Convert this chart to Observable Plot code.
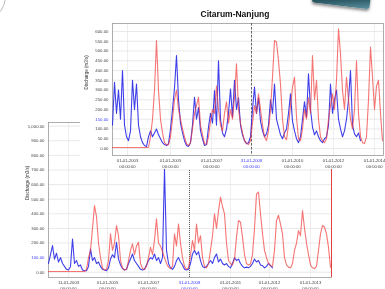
<!DOCTYPE html>
<html><head><meta charset="utf-8">
<script src="https://cdn.jsdelivr.net/npm/d3@7"></script>
<script src="https://cdn.jsdelivr.net/npm/@observablehq/plot@0.6"></script>
<style>
html,body{margin:0;padding:0;background:#fff;}
#stage{position:relative;width:385px;height:289px;overflow:hidden;background:#fff;font-family:"Liberation Sans",Arial,sans-serif;}
#bottom{position:absolute;left:0;top:110px;width:340px;height:179px;background:#fff;}
#top{position:absolute;left:80px;top:0;width:305px;height:169px;background:#fff;}
#title{position:absolute;left:0;width:310px;top:9px;text-align:center;font-weight:bold;font-size:8.5px;color:#111;z-index:2;filter:blur(0.25px);}
#deco{position:absolute;left:313px;top:-20px;width:58px;height:26px;transform:rotate(7deg);border-radius:3px;
  background:linear-gradient(170deg,#1d4a55 0%,#1a4650 60%,#5e93a2 100%);box-shadow:0 2px 3px rgba(0,0,0,.45);z-index:3;}
#arc{position:absolute;left:-46px;top:-30px;width:50px;height:50px;border-radius:50%;border:1px solid #bbb;}
svg{display:block;filter:blur(0.3px);}
</style></head>
<body><div id="stage"><div id="arc"></div><div id="bottom"></div><div id="top"><div id="title">Citarum-Nanjung</div></div><div id="deco"></div></div>
<script>
// ---- Top chart (Citarum-Nanjung) ----
const topTickPos = [7.5, 29, 49.5, 69.5, 90, 110.5, 131];
const topTickLabels = ["01-01-2003\n00:00:00","01-01-2005\n00:00:00","01-01-2007\n00:00:00","31-01-2008\n00:00:00","01-01-2010\n00:00:00","01-01-2012\n00:00:00","01-01-2014\n00:00:00"];
const topYTicks = [0,50,100,150,200,250,300,350,400,450,500,550,600];
const topBlue = [120,340,180,300,150,400,120,60,40,90,350,200,330,120,60,30,15,10,60,90,
 60,80,100,70,50,30,20,15,25,100,200,310,477,250,130,80,40,15,10,30,
 120,263,150,210,90,50,15,20,110,180,130,297,120,450,150,80,60,100,180,305,
 160,350,200,260,120,70,40,25,30,60,200,315,180,260,140,90,60,75,120,250,
 180,330,150,110,70,50,80,100,180,280,140,90,50,30,60,150,240,160,383,200,
 110,70,90,60,40,30,50,60,120,330,180,250,300,150,100,60,90,150,250,400,
 120,75,60,80,40];
const topRed = [5,5,5,5,5,5,5,5,5,5,5,5,5,5,5,5,5,5,5,60,
 150,300,554,300,150,80,30,20,20,60,150,250,300,200,150,100,60,25,15,30,
 100,180,220,263,120,70,25,20,60,140,200,180,320,200,120,90,180,240,130,200,
 150,260,434,200,130,80,40,25,20,40,130,220,180,280,200,120,60,40,90,200,
 365,554,545,450,330,150,60,45,120,220,315,365,160,50,40,100,200,150,260,180,
 477,250,350,150,60,40,30,50,150,220,280,200,350,614,485,300,200,365,250,150,
 100,200,450,180,60,30,25,60,250,520,365,200,320,350,180,40];

// ---- Bottom chart ----
const botTickPos = [10, 29.5, 50, 70.5, 91, 110.5, 131];
const botTickLabels = ["11-01-2003\n00:00:00","01-01-2005\n00:00:00","01-01-2007\n00:00:00","31-01-2008\n00:00:00","01-01-2011\n00:00:00","01-01-2012\n00:00:00","01-01-2013\n00:00:00"];
const botYTicks = [0,100,200,300,400,500,600,700,800,900,1000];
const botBlue = [60,120,183,90,130,70,100,60,40,20,15,40,228,60,80,40,50,15,10,10,
 40,160,80,100,60,70,40,20,15,10,30,90,120,100,205,90,50,25,15,20,
 60,90,125,80,60,40,20,15,20,50,80,100,90,125,80,100,60,100,708,150,
 60,30,20,40,80,100,70,50,20,15,20,60,125,150,120,140,80,40,30,40,
 60,80,60,100,125,70,90,60,50,60,40,30,60,100,80,90,60,40,30,35,
 30,40,60,90,70,80,50,45,30,40,60,45,30];
const botRed = [5,5,5,5,5,5,5,5,5,5,5,5,5,5,5,5,5,5,5,20,
 100,150,300,456,380,200,100,30,15,20,80,263,150,200,320,250,80,30,15,20,
 80,150,194,120,180,205,60,25,20,40,100,170,120,220,365,200,180,140,100,60,
 35,25,40,263,180,330,200,100,40,20,30,120,217,150,330,200,250,100,40,30,
 60,150,250,400,300,420,514,450,400,200,80,60,50,90,240,354,342,240,120,60,
 50,57,120,300,536,548,400,263,150,100,60,45,40,150,354,390,330,263,100,50,
 35,30,60,150,200,285,250,422,300,200,120,50,30,25,40,150,263,320,308,263,
 170,34];

const BLUE = "#2a2ae8", RED = "#f23a3a", HL = "#3a3aff";
const txt = "#444";
const font = {fontFamily:"Liberation Sans, Arial, sans-serif", fontSize:"4.3px", color:txt, background:"transparent"};

function chart({width,height,ml,mr,mt,mb,xDomain,yDomain,yTicks,yFmt,yHL,xPos,xLabels,xHL,blue,red,labelDx,cursorDash,cursorStroke,endRule}) {
  const yTicksMain = yTicks.filter(d => d !== yHL);
  const xPosMain = xPos.filter((d,i) => i !== xHL);
  const lab = new Map(xPos.map((p,i) => [p, xLabels[i]]));
  const marks = [
    Plot.gridY(yTicks, {stroke:"#dadada", strokeOpacity:1, strokeWidth:0.6}),
    Plot.gridX(xPos, {stroke:"#e2e2e2", strokeOpacity:1, strokeWidth:0.6}),
    Plot.frame({stroke:"#9a9a9a", strokeWidth:0.8}),
    Plot.axisY(yTicksMain, {tickSize:0, tickPadding:4, tickFormat:yFmt, fontSize:4.3, fill:txt, label:null}),
    Plot.axisY([yHL], {tickSize:0, tickPadding:4, tickFormat:yFmt, fontSize:4.3, fill:HL, label:null}),
    Plot.axisX(xPosMain, {tickSize:0, tickPadding:2, tickFormat:d => lab.get(d), fontSize:4.2, lineHeight:1.5, fill:txt, label:null}),
    Plot.axisX([xPos[xHL]], {tickSize:0, tickPadding:2, tickFormat:d => lab.get(d), fontSize:4.2, lineHeight:1.5, fill:HL, label:null}),
    Plot.text(["Discharge (m3/s)"], {frameAnchor:"left", rotate:-90, dx:labelDx, fontSize:4.5, fill:"#333"}),
    Plot.ruleX([xPos[xHL]], {stroke:cursorStroke, strokeWidth:0.9, strokeDasharray:cursorDash}),
    Plot.lineY(blue, {stroke:BLUE, strokeWidth:1.1, strokeOpacity:0.9}),
    Plot.lineY(red, {stroke:RED, strokeWidth:1.1, strokeOpacity:0.7})
  ];
  if (endRule) marks.push(Plot.ruleX([xDomain[1]], {stroke:"#e04040", strokeWidth:1}));
  return Plot.plot({
    width, height, marginLeft:ml, marginRight:mr, marginTop:mt, marginBottom:mb,
    x:{domain:xDomain, axis:null}, y:{domain:yDomain, axis:null},
    style:font,
    marks
  });
}

const fmt = d3.format(",.2f");
document.getElementById("top").appendChild(chart({
  width:305, height:169, ml:32, mr:2, mt:23, mb:14,
  xDomain:[0, topRed.length - 0.5], yDomain:[-36, 641],
  yTicks:topYTicks, yFmt:fmt, yHL:150, xPos:topTickPos, xLabels:topTickLabels, xHL:3,
  blue:topBlue, red:topRed, labelDx:-26, cursorDash:"2.5,1.5", cursorStroke:"#555", endRule:false
}));
document.getElementById("bottom").appendChild(chart({
  width:340, height:179, ml:48, mr:9, mt:12, mb:12,
  xDomain:[0, botRed.length - 0.5], yDomain:[-36, 1025],
  yTicks:botYTicks, yFmt:fmt, yHL:100, xPos:botTickPos, xLabels:botTickLabels, xHL:3,
  blue:botBlue, red:botRed, labelDx:-21, cursorDash:"1,1", cursorStroke:"#555", endRule:true
}));
</script></body></html>
